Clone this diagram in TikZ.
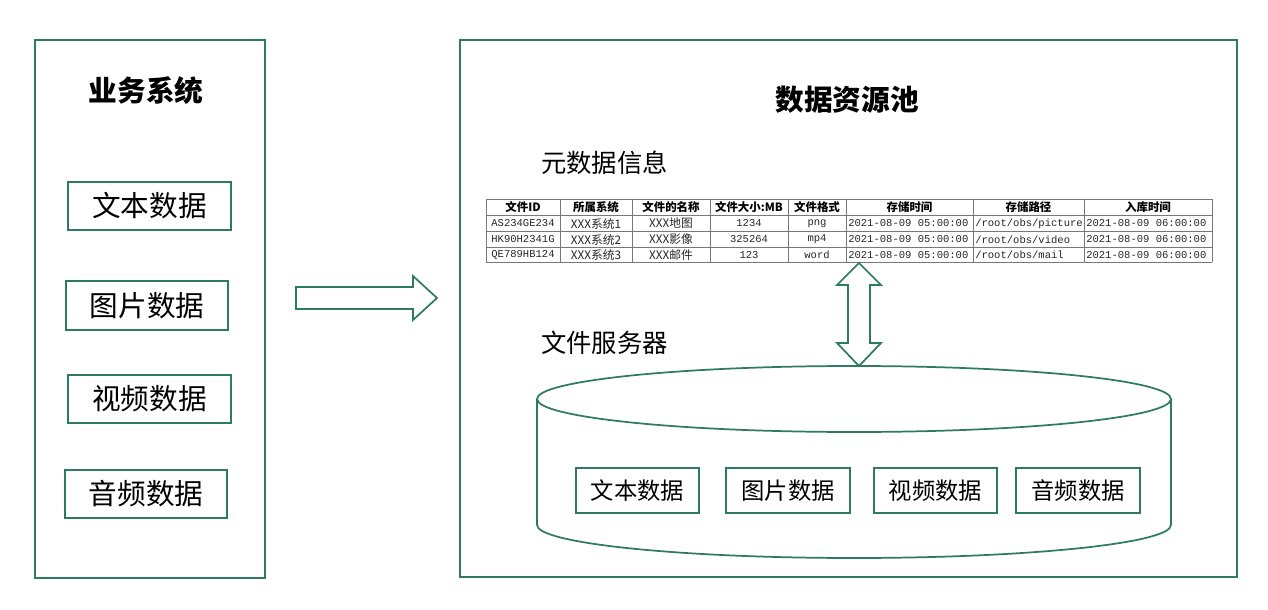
\documentclass[tikz,border=0pt]{standalone}
\usepackage{fontspec}
\setmainfont{Noto Sans CJK SC}
\newfontfamily\tmono{Liberation Mono}
\definecolor{gline}{RGB}{47,122,98}
\definecolor{tline}{RGB}{120,120,120}
\begin{document}
\begin{tikzpicture}[x=0.75pt,y=-0.75pt,
  frame/.style={draw=gline,line width=1.3pt},
  databox/.style={draw=gline,line width=1.3pt,minimum width=#1*0.75pt,inner sep=0pt},
  bigtxt/.style={font=\fontsize{21.5}{24}\selectfont},
  smalltxt/.style={font=\fontsize{17.5}{20}\selectfont},
  cell/.style={font=\fontsize{8.8}{10}\selectfont,inner sep=0pt,text=black!85},
  mcell/.style={font=\tmono\fontsize{7.9}{10}\selectfont,inner sep=0pt,text=black!85},
  hcell/.style={font=\fontsize{8.6}{10}\selectfont\bfseries,inner sep=0pt}]
\useasboundingbox (0,0) rectangle (1268,610);
% left frame
\node[frame,minimum width=230*0.75pt,minimum height=538*0.75pt,inner sep=0pt] (left) at (150,309) {};
\node[font=\fontsize{21.5}{24}\selectfont\bfseries] (ltitle) at (146,91) {业务系统};
\node[databox=163,minimum height=48*0.75pt,bigtxt] (l1) at (149.5,206) {文本数据};
\node[databox=162,minimum height=49*0.75pt,bigtxt] (l2) at (147,305.5) {图片数据};
\node[databox=163,minimum height=48*0.75pt,bigtxt] (l3) at (149.5,399) {视频数据};
\node[databox=162,minimum height=48*0.75pt,bigtxt] (l4) at (146,494) {音频数据};
% right arrow
\draw[gline,line width=1.3pt,line join=miter] (296,287) -- (413,287) -- (413,276) -- (437,298) -- (413,320) -- (413,309) -- (296,309) -- cycle;
% right frame
\node[frame,minimum width=777*0.75pt,minimum height=537*0.75pt,inner sep=0pt] (right) at (848.5,308.5) {};
\node[font=\fontsize{21.5}{24}\selectfont\bfseries] (rtitle) at (847,100) {数据资源池};
\node[anchor=west,inner sep=0pt,font=\fontsize{19}{22}\selectfont] (meta) at (541,163) {元数据信息};
\node[anchor=west,inner sep=0pt,font=\fontsize{19}{22}\selectfont] (fsrv) at (541,343) {文件服务器};
% table
\foreach \y in {199,215,231,247,262} \draw[tline,line width=0.6pt] (486,\y) -- (1212,\y);
\foreach \x in {486,560,632,710,788,846,973,1084,1212} \draw[tline,line width=0.6pt] (\x,199) -- (\x,262);
\foreach \t [count=\i] in {文件ID,所属系统,文件的名称,文件大小:MB,文件格式,存储时间,存储路径,入库时间} {
  \pgfmathsetmacro{\xa}{{486,560,632,710,788,846,973,1084,1212}[\i-1]}
  \pgfmathsetmacro{\xb}{{486,560,632,710,788,846,973,1084,1212}[\i]}
  \node[hcell] (h\i) at ({(\xa+\xb)/2},207.5) {\t};
}
\foreach \r/\yy/\A/\B/\C/\D/\E/\P in {a/223.5/AS234GE234/XXX系统1/XXX地图/1234/png/picture,
                                     b/239.5/HK90H2341G/XXX系统2/XXX影像/325264/mp4/video,
                                     c/255/QE789HB124/XXX系统3/XXX邮件/123/word/mail} {
  \node[mcell] (\r1) at (523,\yy) {\A};
  \node[cell]  (\r2) at (596,\yy) {\B};
  \node[cell]  (\r3) at (671,\yy) {\C};
  \node[mcell] (\r4) at (749,\yy) {\D};
  \node[mcell] (\r5) at (817,\yy) {\E};
  \node[mcell,anchor=west] (\r6) at (848,\yy) {2021-08-09 05:00:00};
  \node[mcell,anchor=west] (\r7) at (975,\yy) {/root/obs/\P};
  \node[mcell,anchor=west] (\r8) at (1086,\yy) {2021-08-09 06:00:00};
}
% double arrow
\draw[gline,line width=1.3pt,line join=miter] (859,263) -- (881,285) -- (870,285) -- (870,343) -- (881,343) -- (859,366) -- (837,343) -- (848,343) -- (848,285) -- (837,285) -- cycle;
% cylinder
\draw[gline,line width=1.3pt] (854,399) ellipse [x radius=317, y radius=33];
\draw[gline,line width=1.3pt] (537,399) -- (537,525) arc[start angle=180,end angle=0,x radius=317,y radius=33] -- (1171,399);
\node[databox=123,minimum height=45*0.75pt,smalltxt] (c1) at (637.5,490.5) {文本数据};
\node[databox=124,minimum height=45*0.75pt,smalltxt] (c2) at (788,490.5) {图片数据};
\node[databox=123,minimum height=45*0.75pt,smalltxt] (c3) at (935.5,490.5) {视频数据};
\node[databox=124,minimum height=45*0.75pt,smalltxt] (c4) at (1078,490.5) {音频数据};
\end{tikzpicture}
\end{document}
